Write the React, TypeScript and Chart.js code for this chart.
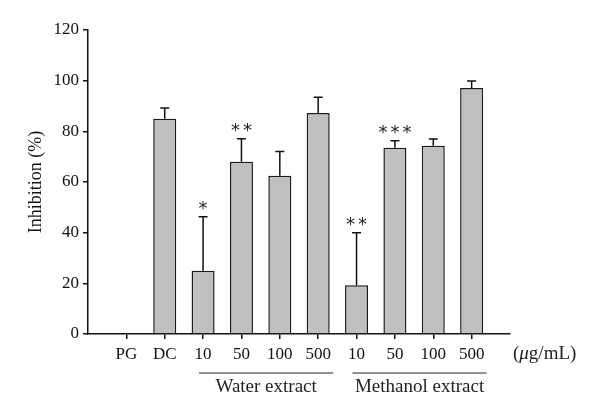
import React, { useEffect, useRef } from "react";
import { Chart, registerables } from "chart.js";

Chart.register(...registerables);

const categories = ["", "PG", "DC", "10", "50", "100", "500", "10", "50", "100", "500", ""];
const inhibition = [null, 0, 85, 25, 68, 62.5, 87.2, 19.2, 73.5, 74.3, 97.1, null];
const errorSD = [null, 0, 4.2, 21.3, 9.1, 9.5, 6.3, 20.8, 2.8, 2.7, 2.8, null];
const significance = ["", "", "", "*", "**", "", "", "**", "***", "", "", ""];
const groupLabels = ["Water extract", "Methanol extract"];
const groupStart = [3, 7];
const groupEnd = [6, 10];
const unitLabel = "(μg/mL)";
const yTitle = "Inhibition (%)";
const yMin = 0;
const yMax = 120;
const yStep = 20;

const SERIF = "'Liberation Serif', 'Times New Roman', serif";

const overlay = {
  id: "overlay",
  afterDatasetsDraw(chart: any) {
    const ctx = chart.ctx;
    const x = chart.scales.x;
    const y = chart.scales.y;
    ctx.save();
    // error bars (upper only)
    ctx.strokeStyle = "#111";
    ctx.lineWidth = 1.5;
    for (let i = 0; i < categories.length; i++) {
      const v = inhibition[i];
      const e = errorSD[i];
      if (v == null || e == null || e === 0) continue;
      const px = x.getPixelForValue(i);
      const top = y.getPixelForValue(v + e);
      const base = y.getPixelForValue(v);
      ctx.beginPath();
      ctx.moveTo(px, base);
      ctx.lineTo(px, top);
      ctx.moveTo(px - 4.5, top);
      ctx.lineTo(px + 4.5, top);
      ctx.stroke();
    }
    // significance stars
    ctx.fillStyle = "#222";
    ctx.font = "18px 'DejaVu Sans', sans-serif";
    ctx.textAlign = "center";
    ctx.textBaseline = "middle";
    for (let i = 0; i < categories.length; i++) {
      const s = significance[i];
      if (!s) continue;
      const v = (inhibition[i] || 0) + (errorSD[i] || 0);
      const px = x.getPixelForValue(i);
      const py = y.getPixelForValue(v) - 7;
      const n = s.length;
      const gap = 12;
      for (let k = 0; k < n; k++) {
        const sx = px + (k - (n - 1) / 2) * gap;
        ctx.fillText("*", sx, py);
      }
    }
    // group lines and labels
    const lineY = 373;
    ctx.strokeStyle = "#222";
    ctx.lineWidth = 1.2;
    ctx.fillStyle = "#222";
    ctx.font = "19px " + SERIF;
    ctx.textBaseline = "middle";
    for (let g = 0; g < groupLabels.length; g++) {
      const x0 = x.getPixelForValue(groupStart[g]) - 4;
      const x1 = x.getPixelForValue(groupEnd[g]) + 15;
      ctx.beginPath();
      ctx.moveTo(x0, lineY);
      ctx.lineTo(x1, lineY);
      ctx.stroke();
      ctx.textAlign = "center";
      ctx.fillText(groupLabels[g], (x0 + x1) / 2, lineY + 14);
    }
    // unit label with italic mu
    const ux = 513;
    const uy = 354;
    ctx.textAlign = "left";
    const parts = [
      { t: unitLabel.slice(0, 1), f: "19px " + SERIF },
      { t: unitLabel.slice(1, 2), f: "italic 19px " + SERIF },
      { t: unitLabel.slice(2), f: "19px " + SERIF },
    ];
    let cx = ux;
    for (const p of parts) {
      ctx.font = p.f;
      ctx.fillText(p.t, cx, uy);
      cx += ctx.measureText(p.t).width;
    }
    ctx.restore();
  },
};

export default function App() {
  const ref = useRef<HTMLCanvasElement | null>(null);
  useEffect(() => {
    if (!ref.current) return;
    const chart = new Chart(ref.current, {
      type: "bar",
      data: {
        labels: categories,
        datasets: [
          {
            data: inhibition as any,
            backgroundColor: "#c0c0c0",
            borderColor: "#1a1a1a",
            borderWidth: 1.5,
            barPercentage: 0.6,
            categoryPercentage: 1,
          },
        ],
      },
      options: {
        animation: false,
        responsive: false,
        maintainAspectRatio: false,
        events: [],
        layout: { padding: { top: 30, right: 90, bottom: 0, left: 0 } },
        plugins: { legend: { display: false }, tooltip: { enabled: false } },
        scales: {
          x: {
            type: "category",
            offset: false,
            afterFit: (s: any) => {
              s.height = 86;
            },
            grid: {
              offset: false,
              drawOnChartArea: false,
              drawTicks: true,
              tickLength: 5,
              lineWidth: 1.5,
              color: (c: any) => (categories[c.index] ? "#111" : "rgba(0,0,0,0)"),
            },
            border: { display: true, color: "#111", width: 1.5 },
            ticks: {
              autoSkip: false,
              maxRotation: 0,
              padding: 5,
              color: "#111",
              font: { family: SERIF, size: 17 },
            },
          },
          y: {
            min: yMin,
            max: yMax,
            afterFit: (s: any) => {
              s.width = 88;
            },
            grid: {
              drawOnChartArea: false,
              drawTicks: true,
              tickLength: 5,
              lineWidth: 1.5,
              color: "#111",
            },
            border: { display: true, color: "#111", width: 1.5 },
            ticks: {
              stepSize: yStep,
              padding: 4,
              color: "#111",
              font: { family: SERIF, size: 17 },
            },
            title: {
              display: true,
              text: yTitle,
              color: "#111",
              font: { family: SERIF, size: 18 },
              padding: { top: 25, bottom: 0 },
            },
          },
        },
      },
      plugins: [overlay],
    });
    return () => chart.destroy();
  }, []);
  return (
    <div style={{ position: "fixed", left: 0, top: 0, width: 600, height: 420, background: "#fff" }}>
      <canvas ref={ref} width={600} height={420} style={{ width: 600, height: 420, display: "block" }} />
    </div>
  );
}
